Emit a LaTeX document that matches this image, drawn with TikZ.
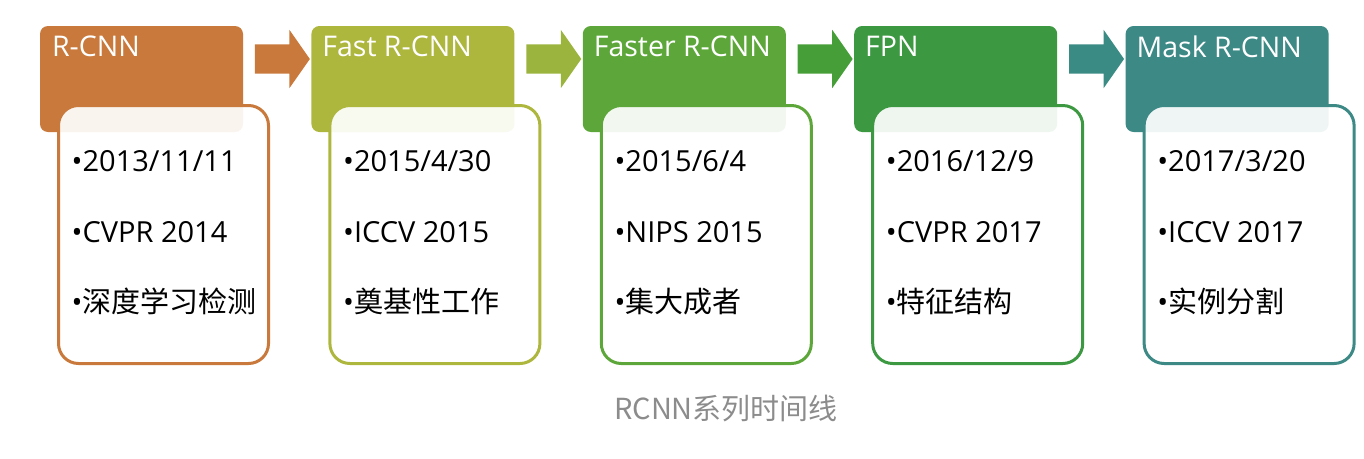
\documentclass[tikz,border=0pt]{standalone}
\usepackage{fontspec}
\setmainfont{Open Sans}
\newfontfamily\cjk{Noto Sans CJK SC}
\usetikzlibrary{positioning,shapes.arrows,calc}

\definecolor{rcnnc}{HTML}{C8793B}
\definecolor{fastc}{HTML}{ADB63D}
\definecolor{fasterc}{HTML}{5DA73A}
\definecolor{fpnc}{HTML}{3C9841}
\definecolor{maskc}{HTML}{3C8986}
\definecolor{arrowa}{HTML}{C8793B}
\definecolor{arrowb}{HTML}{9BB43E}
\definecolor{arrowc}{HTML}{469E38}
\definecolor{arrowd}{HTML}{3A8B84}
\definecolor{captionc}{HTML}{8C8C8C}

\begin{document}
\begin{tikzpicture}[
  x=1pt, y=-1pt,
  node distance=0pt and 68pt,
  head/.style={fill=#1, rounded corners=8pt, minimum width=203pt, minimum height=106pt, inner sep=0pt},
  card/.style={draw=#1, line width=3pt, fill=white, fill opacity=0.92, rounded corners=20pt, minimum width=210pt, minimum height=258pt, inner sep=0pt},
  title/.style={text=white, font=\fontsize{28.5}{34}\selectfont, inner sep=0pt, anchor=west},
  items/.style={font=\fontsize{29}{70.5}\selectfont, align=left, inner sep=0pt, anchor=west},
  flow/.style={single arrow, fill=#1, minimum height=55pt, minimum width=58pt, single arrow head extend=14.5pt, single arrow tip angle=110, inner xsep=0pt, inner ysep=14.5pt, yshift=20pt},
  caption/.style={text=captionc, font=\cjk\fontsize{29}{33}\selectfont, inner sep=0pt}
]
\useasboundingbox (0,0) rectangle (1364,458);

% headers
\node[head=rcnnc] (h1) at (141.5,79) {};
\node[head=fastc, right=of h1] (h2) {};
\node[head=fasterc, right=of h2] (h3) {};
\node[head=fpnc, right=of h3] (h4) {};
\node[head=maskc, right=of h4] (h5) {};

\node[title] (t1) at ($(h1.north west)+(12,21)$) {R-CNN};
\node[title] (t2) at ($(h2.north west)+(11,21)$) {Fast R-CNN};
\node[title] (t3) at ($(h3.north west)+(11,21)$) {Faster R-CNN};
\node[title] (t4) at ($(h4.north west)+(11,21)$) {FPN};
\node[title] (t5) at ($(h5.north west)+(11,21)$) {Mask R-CNN};

% cards
\node[card=rcnnc] (c1) at ($(h1.center)+(22,155.5)$) {};
\node[card=fastc] (c2) at ($(h2.center)+(22,155.5)$) {};
\node[card=fasterc] (c3) at ($(h3.center)+(22,155.5)$) {};
\node[card=fpnc] (c4) at ($(h4.center)+(22,155.5)$) {};
\node[card=maskc] (c5) at ($(h5.center)+(22,155.5)$) {};

\node[items] (l1) at ($(c1.west)+(14.5,-1.5)$) {•2013/11/11\\•CVPR 2014\\•{\cjk 深度学习检测}};
\node[items] (l2) at ($(c2.west)+(14.5,-1.5)$) {•2015/4/30\\•ICCV 2015\\•{\cjk 奠基性工作}};
\node[items] (l3) at ($(c3.west)+(14.5,-1.5)$) {•2015/6/4\\•NIPS 2015\\•{\cjk 集大成者}};
\node[items] (l4) at ($(c4.west)+(14.5,-1.5)$) {•2016/12/9\\•CVPR 2017\\•{\cjk 特征结构}};
\node[items] (l5) at ($(c5.west)+(14.5,-1.5)$) {•2017/3/20\\•ICCV 2017\\•{\cjk 实例分割}};

% arrows between stages
\node[flow=arrowa] (a1) at ($(h1.east)!0.5!(h2.west)$) {};
\node[flow=arrowb] (a2) at ($(h2.east)!0.5!(h3.west)$) {};
\node[flow=arrowc] (a3) at ($(h3.east)!0.5!(h4.west)$) {};
\node[flow=arrowd] (a4) at ($(h4.east)!0.5!(h5.west)$) {};

\node[caption] (cap) at (726,409) {RCNN系列时间线};
\end{tikzpicture}
\end{document}
